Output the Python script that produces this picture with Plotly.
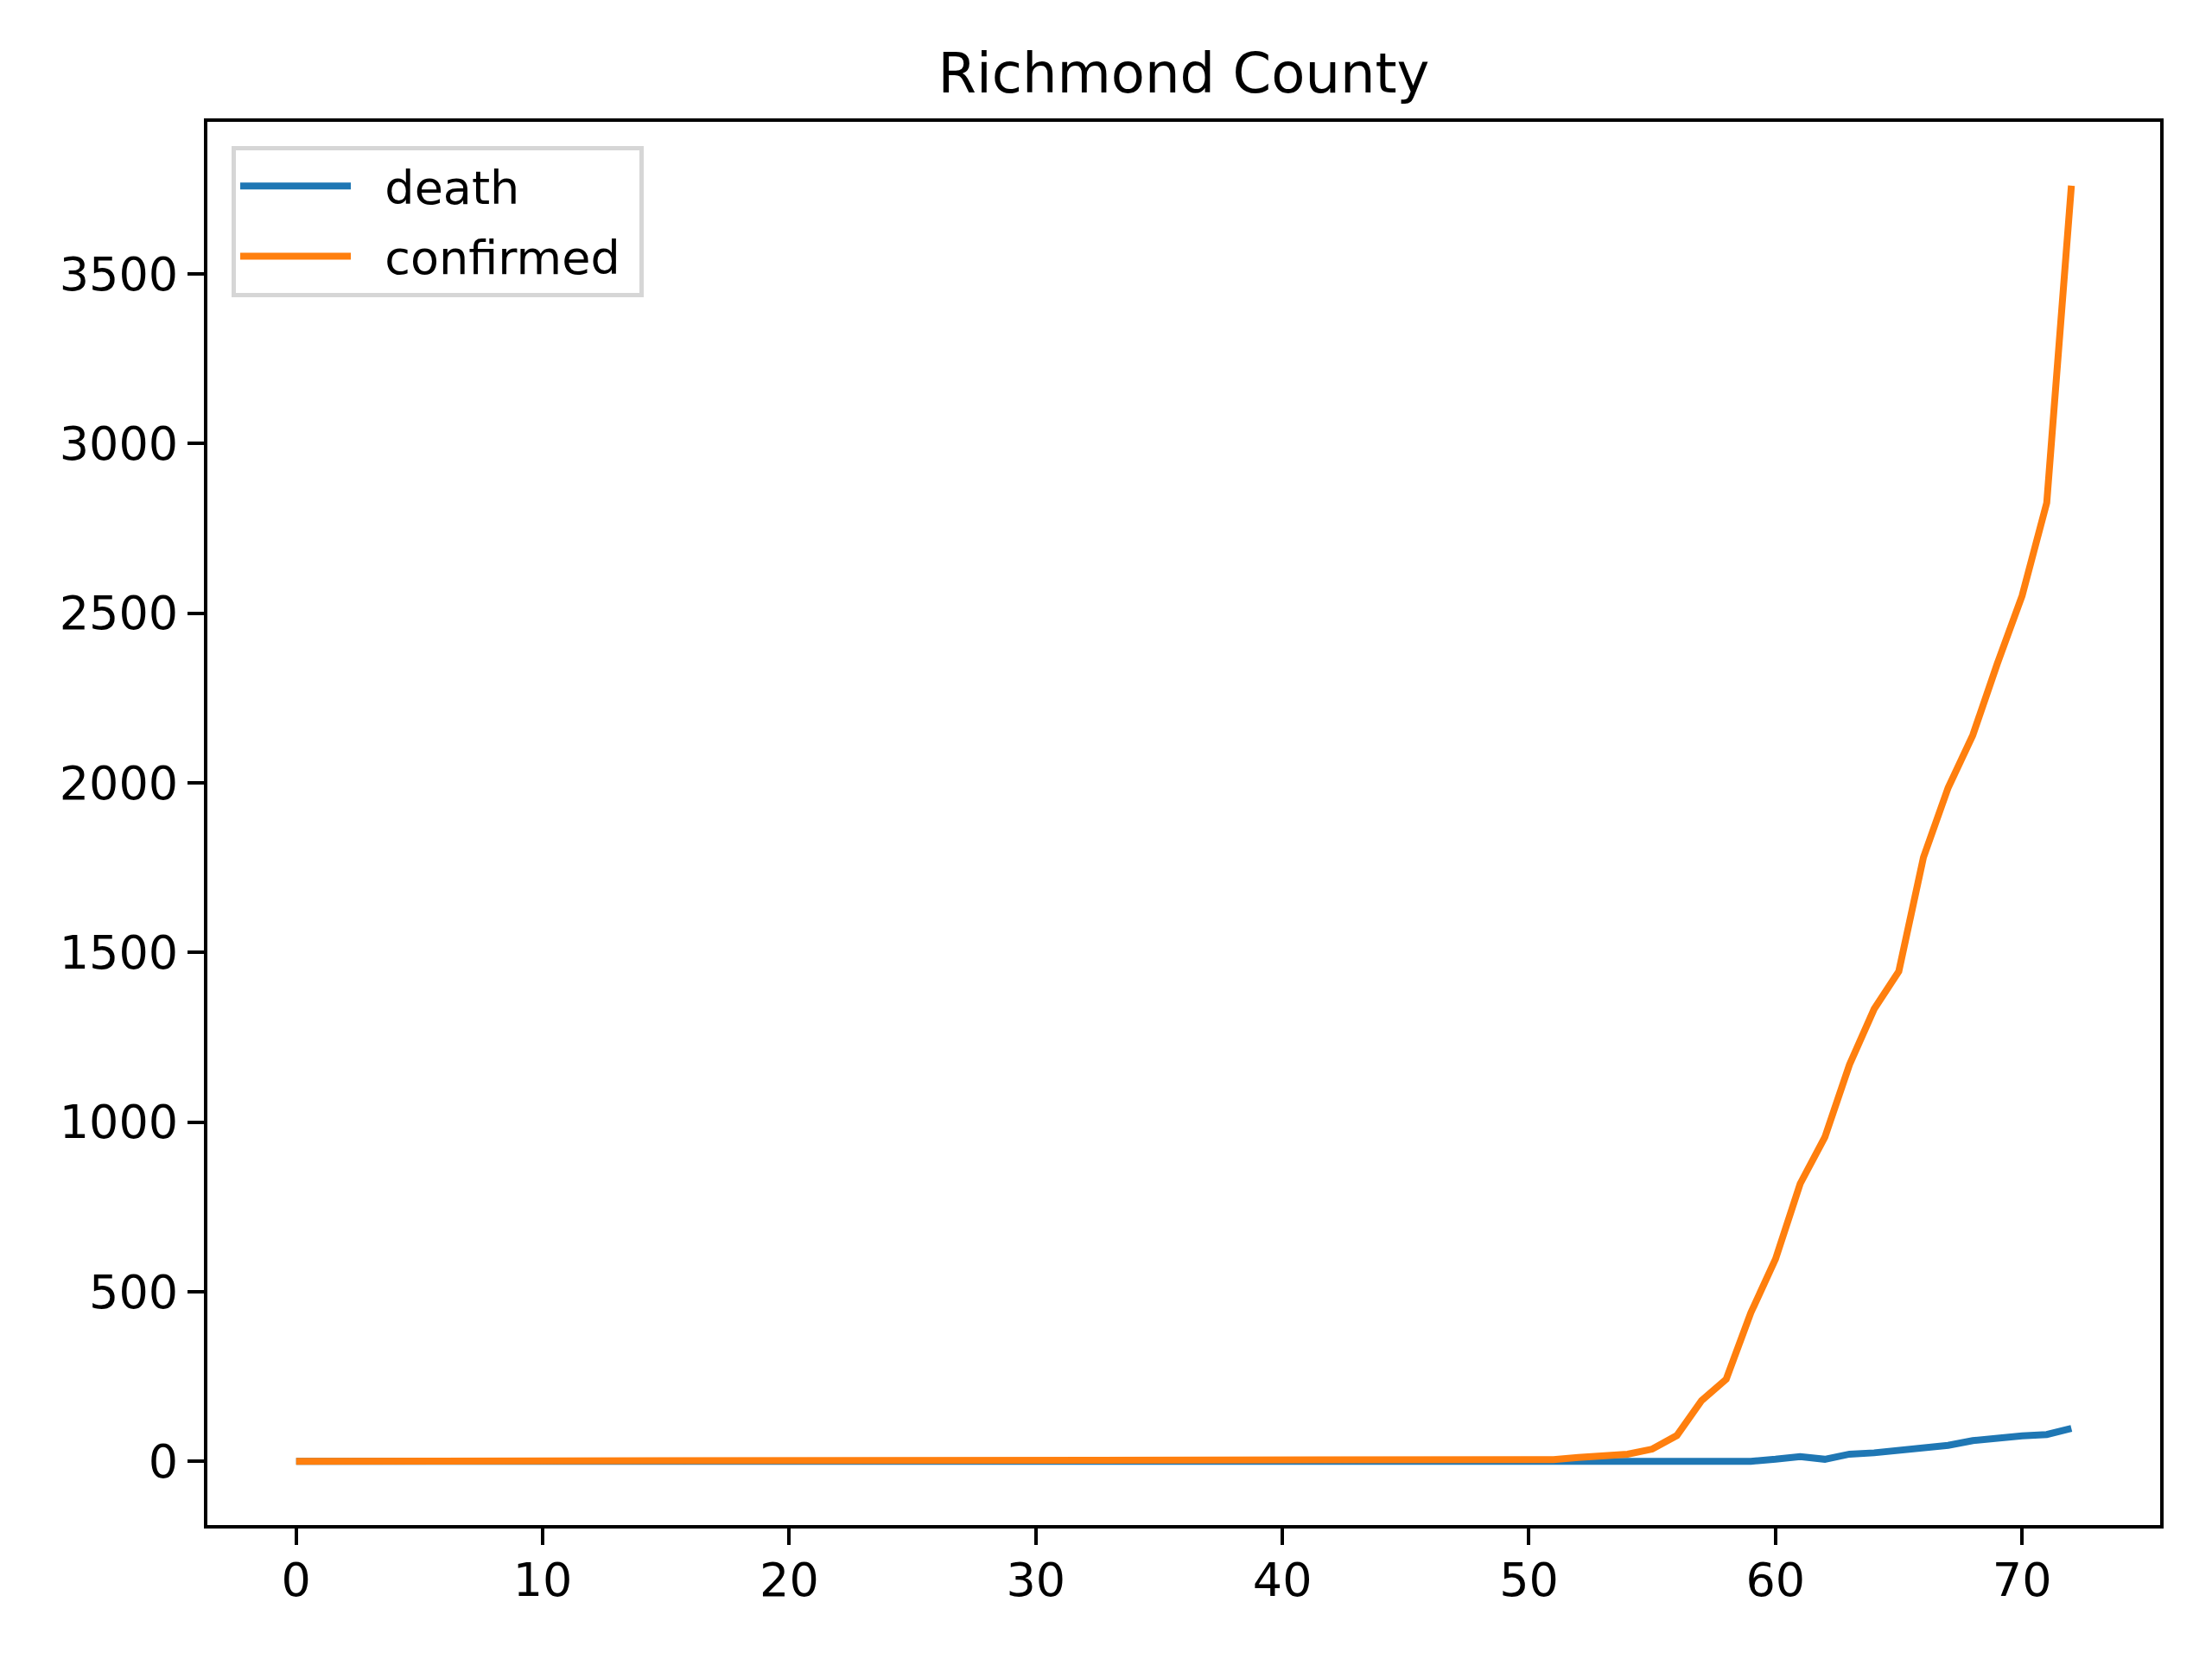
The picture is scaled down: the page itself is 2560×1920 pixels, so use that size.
import plotly.graph_objects as go

# day index and cumulative counts
days = list(range(73))

death = [0] * 60 + [6, 14, 6, 21, 25, 32, 44, 47, 61, 69, 75, 79, 97]

confirmed = [0] * 46 + [
    0, 1, 2, 3, 5, 5, 11, 17, 21, 36, 76,
    179, 242, 438, 596, 818, 955, 1169, 1333, 1444,
    1780, 1985, 2140, 2352, 2551, 2825, 3760,
]

x_ticks = [0, 10, 20, 30, 40, 50, 60, 70]
y_ticks = [0, 500, 1000, 1500, 2000, 2500, 3000, 3500]

FONT = "DejaVu Sans, Liberation Sans, Arial, sans-serif"
GAP = "\u00a0\u00a0"  # matplotlib leaves a gap between handle and label

fig = go.Figure()
fig.add_trace(go.Scatter(x=days, y=death, mode="lines", name=GAP + "death",
                         legendgroup="d",
                         line=dict(color="#1f77b4", width=8)))
fig.add_trace(go.Scatter(x=days, y=confirmed, mode="lines",
                         name=GAP + "confirmed\u00a0",
                         legendgroup="c",
                         line=dict(color="#ff7f0e", width=8)))

# page body adds ~8px, so the margins are shifted to land the axes box
# where the reference has it
fig.update_layout(
    width=2560,
    height=1920,
    template="plotly_white",
    paper_bgcolor="white",
    plot_bgcolor="white",
    margin=dict(l=232, r=68, t=133, b=163),
    font=dict(family=FONT, size=54, color="black"),
    title=dict(text="Richmond County", x=0.5, xref="paper", xanchor="center",
               y=1 - 77 / 1920, yref="container", yanchor="middle",
               font=dict(family=FONT, size=64, color="black")),
    legend=dict(x=0.0124, y=0.983, xanchor="left", yanchor="top",
                bgcolor="white", bordercolor="#d6d6d6", borderwidth=5,
                font=dict(family=FONT, size=54, color="black"),
                itemwidth=128, tracegroupgap=8),
    showlegend=True,
)

axis_style = dict(
    showgrid=False, zeroline=False,
    showline=True, mirror=True, linecolor="black", linewidth=4,
    ticks="outside", ticklen=19, tickwidth=4, tickcolor="black",
    tickfont=dict(family=FONT, size=54, color="black"),
)
fig.update_xaxes(range=[-3.6, 75.6], tickvals=x_ticks, ticklabelstandoff=-6,
                 **axis_style)
fig.update_yaxes(range=[-188, 3948], tickvals=y_ticks, **axis_style)

fig.write_html("out.html")
